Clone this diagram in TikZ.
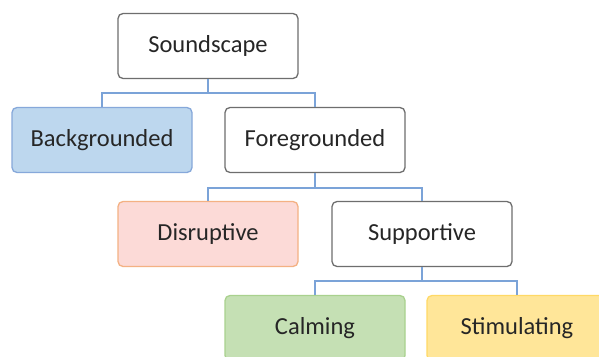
\documentclass[tikz,border=0pt]{standalone}
\usepackage{fontspec}
\setmainfont{Carlito}
\usepackage{tikz}
\usetikzlibrary{positioning}
\definecolor{linkblue}{HTML}{7BA3D8}
\definecolor{boxgray}{HTML}{6E6E6E}
\definecolor{bgfill}{HTML}{BDD7EE}
\definecolor{bgline}{HTML}{86A8DA}
\definecolor{disfill}{HTML}{FCDAD7}
\definecolor{disline}{HTML}{F4B183}
\definecolor{calfill}{HTML}{C5E0B4}
\definecolor{calline}{HTML}{A9D18E}
\definecolor{stifill}{HTML}{FFE699}
\definecolor{stiline}{HTML}{FFD966}
\tikzset{
  catbox/.style={draw=boxgray, line width=1.3pt, rounded corners=5pt, fill=white,
    minimum width=180pt, minimum height=65pt, inner sep=0pt,
    font=\fontsize{24.5pt}{28pt}\selectfont, text=black!85},
  link/.style={draw=linkblue, line width=1.4pt}
}
\begin{document}
\begin{tikzpicture}[x=1pt,y=-1pt]
\clip (0,0) rectangle (599,356);
\fill[white] (0,0) rectangle (599,356);
\node[catbox] (S) at (208,46) {Soundscape};
\node[catbox, fill=bgfill, draw=bgline] (B) at (102,140) {Backgrounded};
\node[catbox] (F) at (315,140) {Foregrounded};
\node[catbox, fill=disfill, draw=disline] (D) at (208,234) {Disruptive};
\node[catbox] (P) at (422,234) {Supportive};
\node[catbox, fill=calfill, draw=calline] (C) at (315,328) {Calming};
\node[catbox, fill=stifill, draw=stiline] (T) at (517,328) {Stimulating};
\path[link]
(S.south) -- ++(0,14) -| (B.north)
(S.south) -- ++(0,14) -| (F.north)
(F.south) -- ++(0,15) -| (D.north)
(F.south) -- ++(0,15) -| (P.north)
(P.south) -- ++(0,14) -| (C.north)
(P.south) -- ++(0,14) -| (T.north);
\end{tikzpicture}
\end{document}
